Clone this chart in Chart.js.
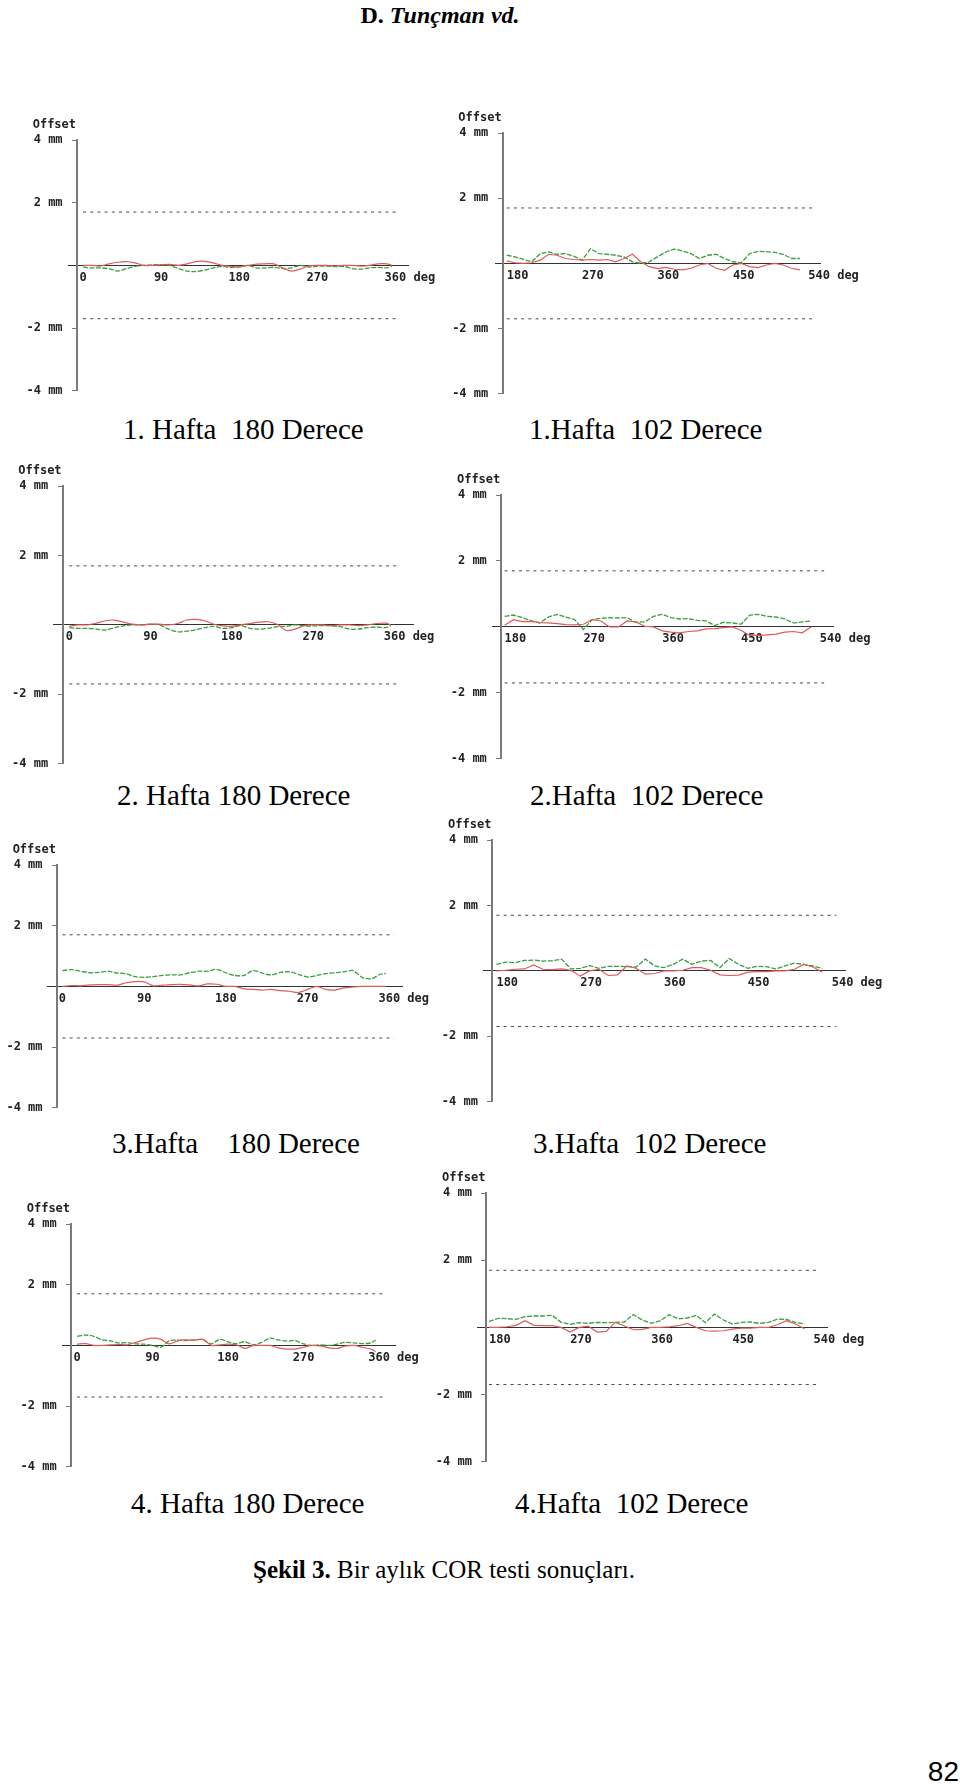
<!DOCTYPE html>
<html lang="tr">
<head>
<meta charset="UTF-8">
<title>Şekil 3. Bir aylık COR testi sonuçları</title>
<script src="https://cdn.jsdelivr.net/npm/chart.js"></script>
<style>
  body { margin: 0; background: #fff; }
  #page { position: relative; width: 960px; height: 1784px; overflow: hidden; background: #fff; }
  #page canvas { position: absolute; }
  .txt { position: absolute; font-family: "Liberation Serif", "Times New Roman", serif; line-height: 1; white-space: pre; color: #000; }
  .cap { font-size: 29px; }
</style>
</head>
<body>
<div id="page">
  <div class="txt" style="left:0; width:880px; top:3px; text-align:center; font-size:24px; font-weight:bold;">D. <i>Tunçman vd.</i></div>

  <div class="txt cap" style="left:123px; top:415px;">1. Hafta  180 Derece</div>
  <div class="txt cap" style="left:529px; top:415px;">1.Hafta  102 Derece</div>
  <div class="txt cap" style="left:117px; top:781px;">2. Hafta 180 Derece</div>
  <div class="txt cap" style="left:530px; top:781px;">2.Hafta  102 Derece</div>
  <div class="txt cap" style="left:112px; top:1129px;">3.Hafta    180 Derece</div>
  <div class="txt cap" style="left:533px; top:1129px;">3.Hafta  102 Derece</div>
  <div class="txt cap" style="left:131px; top:1489px;">4. Hafta 180 Derece</div>
  <div class="txt cap" style="left:515px; top:1489px;">4.Hafta  102 Derece</div>

  <div class="txt" style="left:253px; top:1557px; font-size:25px;"><b>Şekil 3.</b> Bir aylık COR testi sonuçları.</div>
  <div class="txt" style="right:1px; top:1758px; font-family:'Liberation Sans Narrow','Liberation Sans',sans-serif; font-size:28px;">82</div>
</div>

<script>
// açılar (derece)
const ANGLES_180 = [0, 10, 20, 30, 40, 50, 60, 70, 80, 90, 100, 110, 120, 130, 140, 150, 160, 170, 180,
  190, 200, 210, 220, 230, 240, 250, 260, 270, 280, 290, 300, 310, 320, 330, 340, 350, 356];
const ANGLES_102 = [180, 190, 200, 210, 220, 230, 240, 250, 260, 270, 280, 290, 300, 310, 320, 330, 340, 350,
  360, 370, 380, 390, 400, 410, 420, 430, 440, 450, 460, 470, 480, 490, 500, 510, 520, 530];

// eksen etiketleri
const Y_TICKS = [4, 2, -2, -4];
const X_TICKS_180 = [0, 90, 180, 270, 360];
const X_TICKS_102 = [180, 270, 360, 450, 540];

// tolerans çizgileri (mm)
const LIMIT_MM = 1.7;
const LIMIT_SPAN_180 = [0, 365];
const LIMIT_SPAN_102 = [180, 545];

// 1. hafta
const w1_180_green = [-0.05, -0.08, -0.08, -0.1, -0.18, -0.1, -0.03, 0, 0.02, 0.02, 0, -0.1, -0.18, -0.2, -0.15, -0.08, -0.03, -0.06, -0.05,
  0, -0.08, -0.08, -0.06, -0.1, -0.08, 0, -0.05, -0.03, -0.02, -0.04, -0.03, -0.1, -0.12, -0.08, -0.06, -0.08, -0.02];
const w1_180_red = [0, 0, -0.02, 0.05, 0.1, 0.12, 0.08, 0, 0, 0.02, 0.03, 0, 0.05, 0.12, 0.13, 0.08, 0, -0.03, -0.05,
  0, 0.04, 0.05, 0.05, -0.08, -0.18, -0.12, -0.02, 0, 0, -0.02, 0, 0, -0.02, 0, 0.05, 0.05, 0];
const w1_102_green = [0.25, 0.2, 0.12, 0.05, 0.3, 0.35, 0.28, 0.3, 0.22, 0.1, 0.45, 0.3, 0.28, 0.25, 0.2, 0.05, 0, 0.05,
  0.2, 0.35, 0.44, 0.38, 0.3, 0.15, 0.25, 0.28, 0.15, 0.05, 0.02, 0.3, 0.37, 0.36, 0.34, 0.28, 0.15, 0.15];
const w1_102_red = [0.08, 0.02, 0, 0.02, 0.1, 0.28, 0.25, 0.15, 0.12, 0.1, 0.12, 0.1, 0.12, 0.05, 0.15, 0.28, 0.05, -0.1,
  -0.16, -0.12, -0.18, -0.2, -0.15, -0.05, 0, -0.15, -0.21, -0.05, 0, -0.1, -0.13, -0.05, 0, -0.05, -0.15, -0.2];

// 2. hafta
const w2_180_green = [-0.08, -0.1, -0.1, -0.12, -0.15, -0.08, -0.03, 0, 0, 0.02, 0, -0.12, -0.2, -0.18, -0.14, -0.08, -0.04, -0.1, -0.08,
  -0.02, -0.1, -0.12, -0.1, -0.05, -0.04, 0, -0.03, -0.03, -0.02, -0.03, -0.05, -0.12, -0.12, -0.08, -0.06, -0.08, -0.02];
const w2_180_red = [-0.04, 0, 0, 0.05, 0.12, 0.14, 0.08, 0.02, 0, 0.02, 0.02, 0, 0.04, 0.14, 0.16, 0.12, 0.02, -0.03, -0.04,
  0, 0.04, 0.08, 0.09, 0.02, -0.16, -0.12, -0.02, 0, 0, -0.02, 0, 0, -0.02, 0, 0.04, 0.05, 0];
const w2_102_green = [0.32, 0.36, 0.28, 0.19, 0.12, 0.3, 0.38, 0.3, 0.22, -0.08, 0.22, 0.26, 0.28, 0.27, 0.28, 0.14, 0.15, 0.32,
  0.38, 0.28, 0.24, 0.25, 0.2, 0.18, 0.04, 0.14, 0.12, 0.08, 0.36, 0.38, 0.32, 0.3, 0.24, 0.12, 0.15, 0.18];
const w2_102_red = [0.05, 0.22, 0.16, 0.17, 0.13, 0.12, 0.1, 0.07, 0.06, 0.08, 0.22, 0.18, 0, 0, 0.18, 0.15, 0.02, 0,
  -0.12, -0.16, -0.18, -0.14, -0.12, -0.06, -0.05, -0.02, 0, -0.1, -0.26, -0.26, -0.24, -0.22, -0.16, -0.14, -0.18, 0];

// 3. hafta
const w3_180_green = [0.52, 0.55, 0.5, 0.45, 0.46, 0.5, 0.44, 0.42, 0.32, 0.3, 0.32, 0.36, 0.38, 0.38, 0.45, 0.5, 0.5, 0.56, 0.45,
  0.36, 0.36, 0.52, 0.44, 0.38, 0.46, 0.48, 0.4, 0.31, 0.36, 0.42, 0.45, 0.48, 0.52, 0.3, 0.25, 0.4, 0.42];
const w3_180_red = [0, 0.03, 0.02, 0.05, 0.06, 0.06, 0.04, 0.12, 0.16, 0.15, 0.02, 0.04, 0.06, 0.07, 0.05, 0.02, 0.08, 0.07, 0,
  0, -0.08, -0.1, -0.12, -0.1, -0.14, -0.16, -0.2, -0.1, 0, -0.1, -0.12, -0.05, -0.02, 0, 0, 0, 0];
const w3_102_green = [0.2, 0.27, 0.25, 0.32, 0.33, 0.3, 0.31, 0.36, 0.06, 0.08, 0.16, 0.08, 0.14, 0.14, 0.13, 0.12, 0.36, 0.15,
  0.1, 0.2, 0.36, 0.2, 0.3, 0.32, 0.1, 0.38, 0.2, 0.08, 0.14, 0.13, 0.06, 0.15, 0.24, 0.2, 0.15, 0.08];
const w3_102_red = [0, 0.02, 0.05, 0.06, 0.18, 0.05, 0.04, 0.06, 0.02, -0.16, 0, 0.05, -0.14, -0.12, 0.15, 0.08, -0.1, -0.08,
  0, 0, 0.02, 0.1, 0.1, 0.02, -0.12, -0.14, -0.13, -0.04, -0.02, -0.02, 0, 0, 0.05, 0.2, 0.12, -0.04];

// 4. hafta
const w4_180_green = [0.3, 0.34, 0.3, 0.18, 0.15, 0.08, 0.09, 0.05, 0.04, 0, -0.06, 0.15, 0.17, 0.16, 0.18, 0.19, 0.05, 0.2, 0.12,
  0.06, 0.12, 0.02, 0.1, 0.24, 0.18, 0.14, 0.16, 0.05, 0, 0.02, 0, 0.04, 0.1, 0.08, 0.06, 0.08, 0.18];
const w4_180_red = [0.04, 0.06, 0, 0, 0.02, 0.03, 0.02, 0.1, 0.18, 0.24, 0.2, 0.05, 0.15, 0.18, 0.17, 0.2, 0, 0.02, 0.04,
  0.02, -0.1, 0, 0, 0, -0.08, -0.12, -0.12, -0.06, 0, -0.02, -0.08, -0.1, -0.02, 0, -0.06, -0.12, -0.2];
const w4_102_green = [0.18, 0.27, 0.26, 0.24, 0.32, 0.34, 0.34, 0.36, 0.15, 0.09, 0.14, 0.12, 0.15, 0.14, 0.15, 0.16, 0.38, 0.22,
  0.12, 0.2, 0.38, 0.25, 0.28, 0.36, 0.14, 0.4, 0.22, 0.1, 0.15, 0.16, 0.12, 0.15, 0.25, 0.24, 0.15, 0.1];
const w4_102_red = [0, 0, 0.02, 0.06, 0.2, 0.06, 0.05, 0.05, 0, -0.14, 0, 0.04, -0.14, -0.12, 0.15, 0.05, -0.07, -0.06,
  0, 0, 0.02, 0.05, 0.12, 0, -0.1, -0.11, -0.1, -0.05, -0.02, -0.02, 0, 0, 0.08, 0.2, 0.1, -0.04];

// panel yerleşimi: box = [sol, üst(+4), sağ, alt(-4)] piksel
const PANELS = [
  { box: [68, 140, 408, 397], xRange: [-17.3, 374.5], yAt: -6.9, kind: 180, green: w1_180_green, red: w1_180_red },
  { box: [495, 133, 820, 400], xRange: [166, 554], yAt: 175.2, kind: 102, green: w1_102_green, red: w1_102_red },
  { box: [53, 486, 413, 770], xRange: [-18, 380.4], yAt: -7.4, kind: 180, green: w2_180_green, red: w2_180_red },
  { box: [492, 495, 833, 765], xRange: [165.6, 555.1], yAt: 176.2, kind: 102, green: w2_102_green, red: w2_102_red },
  { box: [47, 865, 402, 1114], xRange: [-17, 374], yAt: -6, kind: 180, green: w3_180_green, red: w3_180_red },
  { box: [483, 840, 845, 1108], xRange: [165.6, 554.3], yAt: 175.7, kind: 102, green: w3_102_green, red: w3_102_red },
  { box: [62, 1224, 395, 1473], xRange: [-17.9, 379], yAt: -7.1, kind: 180, green: w4_180_green, red: w4_180_red },
  { box: [477, 1193, 827, 1468], xRange: [166.7, 554.9], yAt: 177.1, kind: 102, green: w4_102_green, red: w4_102_red },
];

const PAD = { left: 60, right: 60, top: 30, bottom: 12 };
const FONT_SIZE = 12;
const MONO = { family: '"DejaVu Sans Mono", "Liberation Mono", monospace', size: FONT_SIZE, weight: 'bold' };
const GREEN = '#3c9e3c';
const RED = '#e05a5a';
const LIMIT_COLOR = '#4a4a4a';

function series(angles, values) {
  return angles.map((a, i) => ({ x: a, y: values[i] }));
}

// "Offset" ve "deg" yazıları
const axisNotes = {
  id: 'axisNotes',
  afterDraw(chart, args, opts) {
    const { ctx } = chart;
    const xs = chart.scales.x, ys = chart.scales.y;
    const axisX = xs.getPixelForValue(opts.yAt);
    ctx.save();
    ctx.font = 'bold ' + FONT_SIZE + 'px "DejaVu Sans Mono", monospace';
    ctx.fillStyle = '#222';
    ctx.textAlign = 'right';
    ctx.textBaseline = 'alphabetic';
    ctx.fillText('Offset', axisX - 1, ys.getPixelForValue(4) - 12);

    const last = opts.xTicks[opts.xTicks.length - 1];
    const w = ctx.measureText(String(last)).width;
    const px = xs.getPixelForValue(last);
    const right = opts.align === 'center' ? px + w / 2 : px + w;
    ctx.textAlign = 'left';
    ctx.textBaseline = 'middle';
    ctx.fillText('deg', right + ctx.measureText(' ').width, ys.getPixelForValue(0) + 5 + FONT_SIZE * 0.6);
    ctx.restore();
  }
};

function drawPanel(p) {
  const [L, T, R, B] = p.box;
  const w = (R - L) + PAD.left + PAD.right;
  const h = (B - T) + PAD.top + PAD.bottom;
  const cv = document.createElement('canvas');
  cv.width = w;
  cv.height = h;
  cv.style.left = (L - PAD.left) + 'px';
  cv.style.top = (T - PAD.top) + 'px';
  cv.style.width = w + 'px';
  cv.style.height = h + 'px';
  document.getElementById('page').appendChild(cv);

  const is180 = p.kind === 180;
  const angles = is180 ? ANGLES_180 : ANGLES_102;
  const xTicks = is180 ? X_TICKS_180 : X_TICKS_102;
  const span = is180 ? LIMIT_SPAN_180 : LIMIT_SPAN_102;
  const align = is180 ? 'center' : 'start';
  const tension = is180 ? 0.3 : 0;

  new Chart(cv, {
    type: 'line',
    data: {
      datasets: [
        { label: 'kırmızı', data: series(angles, p.red), borderColor: RED, borderWidth: 1.2, pointRadius: 0, tension: tension },
        { label: 'yeşil', data: series(angles, p.green), borderColor: GREEN, borderWidth: 1.3, borderDash: [5, 1.5], pointRadius: 0, tension: tension },
        { label: '+limit', data: series(span, [LIMIT_MM, LIMIT_MM]), borderColor: LIMIT_COLOR, borderWidth: 1, borderDash: [3, 4.2], pointRadius: 0 },
        { label: '-limit', data: series(span, [-LIMIT_MM, -LIMIT_MM]), borderColor: LIMIT_COLOR, borderWidth: 1, borderDash: [3, 4.2], pointRadius: 0 },
      ]
    },
    options: {
      responsive: false,
      animation: false,
      devicePixelRatio: 1,
      layout: { padding: PAD },
      plugins: {
        legend: { display: false },
        tooltip: { enabled: false },
        axisNotes: { yAt: p.yAt, xTicks: xTicks, align: align },
      },
      scales: {
        x: {
          type: 'linear',
          min: p.xRange[0],
          max: p.xRange[1],
          position: { y: 0 },
          afterBuildTicks: s => { s.ticks = xTicks.map(v => ({ value: v })); },
          grid: { display: false, drawTicks: false },
          border: { display: true, color: '#333', width: 1 },
          ticks: { align: align, padding: 5, font: MONO, color: '#222', autoSkip: false, maxRotation: 0, callback: v => String(v) },
        },
        y: {
          type: 'linear',
          min: -4,
          max: 4,
          position: { x: p.yAt },
          afterBuildTicks: s => { s.ticks = Y_TICKS.map(v => ({ value: v })); },
          grid: { drawOnChartArea: false, drawTicks: true, tickLength: 4, color: '#777' },
          border: { display: true, color: '#7a7a7a', width: 2 },
          // konumlu eksende etiket eksene yapışık çizildiği için sağa iki boşluk
          ticks: { padding: 11, font: MONO, color: '#222', callback: v => v + ' mm  ' },
        }
      }
    },
    plugins: [axisNotes]
  });
}

PANELS.forEach(drawPanel);
</script>
</body>
</html>
